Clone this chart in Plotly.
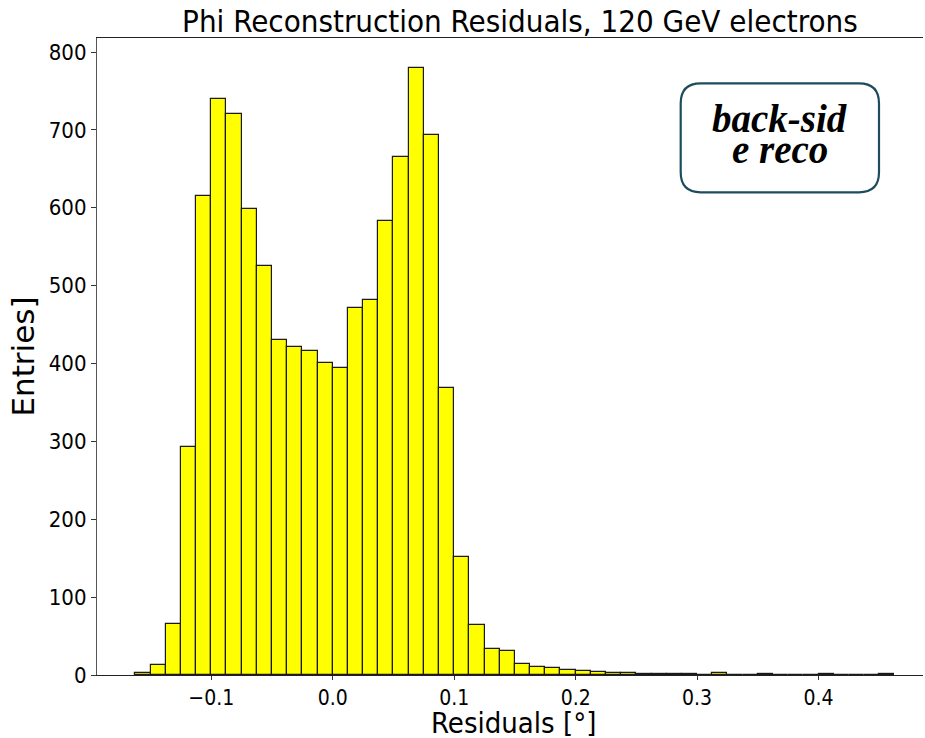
import plotly.graph_objects as go

# Histogram data
bin_start = -0.1625
bin_width = 0.0125
counts = [3, 13, 65, 293, 615, 740, 720, 598, 525, 430,
          421, 416, 401, 394, 471, 482, 583, 665, 779, 693,
          368, 152, 64, 33, 31, 14, 10, 9, 6, 5,
          4, 3, 3, 1, 1, 1, 1, 0, 2, 0,
          0, 1, 0, 0, 0, 1, 0, 0, 0, 1]
x_tick_vals = [-0.1, 0.0, 0.1, 0.2, 0.3, 0.4]
x_tick_text = ["\u22120.1", "0.0", "0.1", "0.2", "0.3", "0.4"]
y_tick_vals = [0, 100, 200, 300, 400, 500, 600, 700, 800]

centers = [bin_start + bin_width * (i + 0.5) for i in range(len(counts))]

COND = "DejaVu Sans Condensed, DejaVu Sans"

fig = go.Figure()
fig.add_trace(go.Bar(
    x=centers, y=counts, width=[bin_width] * len(counts),
    marker=dict(color="#ffff00", line=dict(color="#1a1a1a", width=1.2)),
    showlegend=False,
))

W, H = 925, 738
L, R, T, B = 97, 923, 38, 675

fig.update_layout(
    width=W, height=H,
    margin=dict(l=L, r=W - R, t=T, b=H - B, pad=0),
    plot_bgcolor="white", paper_bgcolor="white",
    bargap=0,
    font=dict(family=COND, color="black"),
    title=dict(text="Phi Reconstruction Residuals, 120 GeV electrons",
               font=dict(size=31, family=COND, color="black"),
               x=0.512, xref="paper", xanchor="center",
               y=1 - 21 / H, yref="container", yanchor="middle"),
    xaxis=dict(range=[-0.1941, 0.486], tickvals=x_tick_vals, ticktext=x_tick_text,
               ticks="outside", ticklen=4, tickwidth=1, tickcolor="#333",
               tickfont=dict(size=21, family=COND), automargin=False,
               showgrid=False, zeroline=False,
               showline=True, linecolor="#222", linewidth=1.2, mirror=True),
    yaxis=dict(range=[0, 818], tickvals=y_tick_vals, automargin=False,
               ticks="outside", ticklen=5, tickwidth=1, tickcolor="#333",
               tickfont=dict(size=22, family=COND), showgrid=False, zeroline=False,
               showline=True, linecolor="#555", linewidth=1.2,
               title=dict(text="Entries]", font=dict(size=31, family="DejaVu Sans"), standoff=4)),
)

# Rounded text box (paper coordinates)
def px_x(p):
    return (p - L) / (R - L)

def px_y(p):
    return (B - p) / (B - T)

# x-axis title as annotation (keeps it clear of the tick labels)
fig.add_annotation(text="Residuals [°]", x=px_x(513), y=px_y(723),
                   xref="paper", yref="paper", xanchor="center", yanchor="middle",
                   showarrow=False, font=dict(size=29, family=COND, color="black"))

x0, x1 = px_x(680.7), px_x(879)
y0, y1 = px_y(192.3), px_y(83.3)
rx, ry = 20 / (R - L), 20 / (B - T)
path = (f"M {x0+rx},{y1} L {x1-rx},{y1} Q {x1},{y1} {x1},{y1-ry} "
        f"L {x1},{y0+ry} Q {x1},{y0} {x1-rx},{y0} "
        f"L {x0+rx},{y0} Q {x0},{y0} {x0},{y0+ry} "
        f"L {x0},{y1-ry} Q {x0},{y1} {x0+rx},{y1} Z")
fig.add_shape(type="path", path=path, xref="paper", yref="paper",
              line=dict(color="#1d4d5c", width=2.2), fillcolor="white", layer="above")

cx = px_x(779.9)
for txt, ypx in [("back-sid", 119), ("e reco", 149)]:
    fig.add_annotation(text=f"<b><i>{txt}</i></b>", x=cx, y=px_y(ypx),
                       xref="paper", yref="paper", xanchor="center", yanchor="middle",
                       showarrow=False,
                       font=dict(family="Liberation Serif", size=39, color="black"))

fig.write_html("out.html")
